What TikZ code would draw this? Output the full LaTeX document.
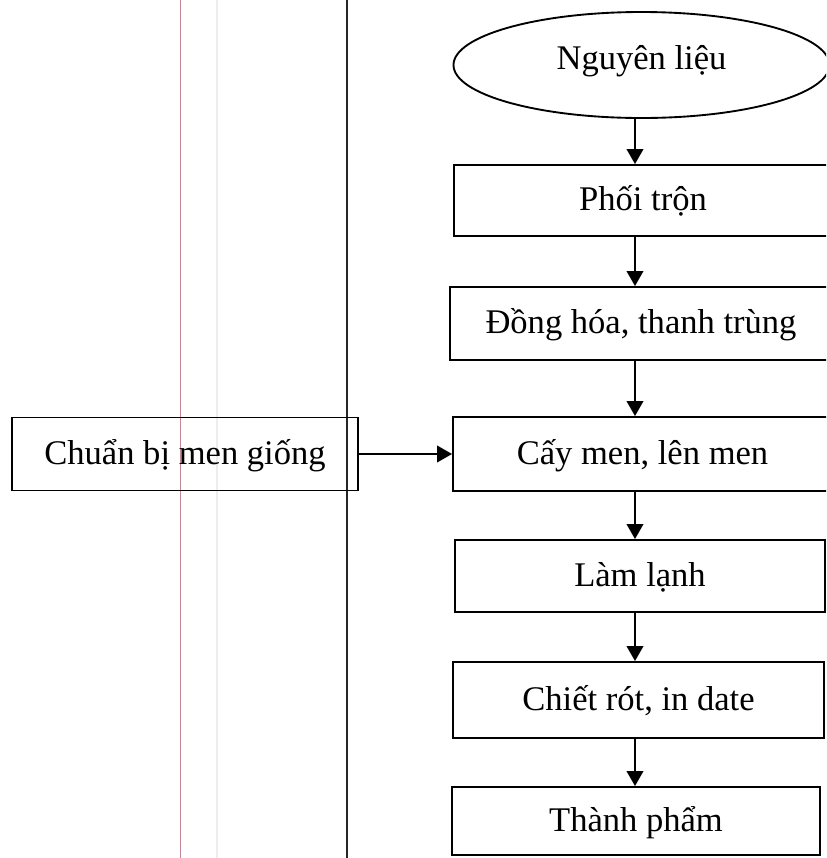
\documentclass[tikz,border=0pt]{standalone}
\usepackage{fontspec}
\setmainfont{Liberation Serif}
\usetikzlibrary{shapes.geometric,arrows.meta}
\definecolor{pinkline}{RGB}{195,135,150}
\definecolor{faintline}{RGB}{238,236,238}
\tikzset{
  stepbox/.style={draw, line width=1.6pt, inner sep=0pt, text height=0.8cm, text depth=0.2cm,
    font=\fontsize{29.5}{35}\selectfont},
  startshape/.style={draw, ellipse, line width=1.6pt, inner sep=0pt, text height=0.6cm, text depth=0.35cm,
    minimum width=11.28cm, minimum height=3.18cm, font=\fontsize{29.5}{35}\selectfont},
  flow/.style={line width=1.5pt, -{Triangle[length=0.45cm,width=0.5cm]}},
  margin/.style={line width=0.8pt}
}
\begin{document}
\begin{tikzpicture}[x=0.03cm,y=-0.03cm]
\useasboundingbox (0,0) rectangle (826,858);
\clip (0,0) rectangle (826,858);
\fill[white] (0,0) rectangle (826,858);
% scan margin lines
\coordinate (p1) at (180,0); \coordinate (p2) at (180,858);
\coordinate (f1) at (217,0); \coordinate (f2) at (217,858);
\coordinate (d1) at (347,0); \coordinate (d2) at (347,858);
\draw[margin, pinkline] (p1) -- (p2);
\draw[margin, faintline, line width=1.5pt] (f1) -- (f2);
\draw[margin, black!85, line width=1.3pt] (d1) -- (d2);
% nodes
\node[startshape] (nl) at (641.5,65) {Nguyên liệu};
\node[stepbox, minimum width=11.34cm, minimum height=2.13cm] (pt) at (643,200.5) {Phối trộn};
\node[stepbox, minimum width=11.46cm, minimum height=2.19cm] (dh) at (641,323.5) {Đồng hóa, thanh trùng};
\node[stepbox, minimum width=11.37cm, minimum height=2.22cm] (cm) at (642.5,454) {Cấy men, lên men};
\node[stepbox, minimum width=11.1cm, minimum height=2.16cm] (ll) at (640,576) {Làm lạnh};
\node[stepbox, minimum width=11.13cm, minimum height=2.28cm] (cr) at (638.5,700) {Chiết rót, in date};
\node[stepbox, minimum width=11.04cm, minimum height=2.04cm] (tp) at (636,821) {Thành phẩm};
\node[stepbox, minimum width=10.38cm, minimum height=2.19cm] (cb) at (185,454) {Chuẩn bị men giống};
% connectors
\coordinate (ax) at (635,0);
\draw[flow] (nl.south -| ax) -- (pt.north -| ax);
\draw[flow] (pt.south -| ax) -- (dh.north -| ax);
\draw[flow] (dh.south -| ax) -- (cm.north -| ax);
\draw[flow] (cm.south -| ax) -- (ll.north -| ax);
\draw[flow] (ll.south -| ax) -- (cr.north -| ax);
\draw[flow] (cr.south -| ax) -- (tp.north -| ax);
\draw[flow] (cb.east) -- (cm.west);
\end{tikzpicture}
\end{document}
